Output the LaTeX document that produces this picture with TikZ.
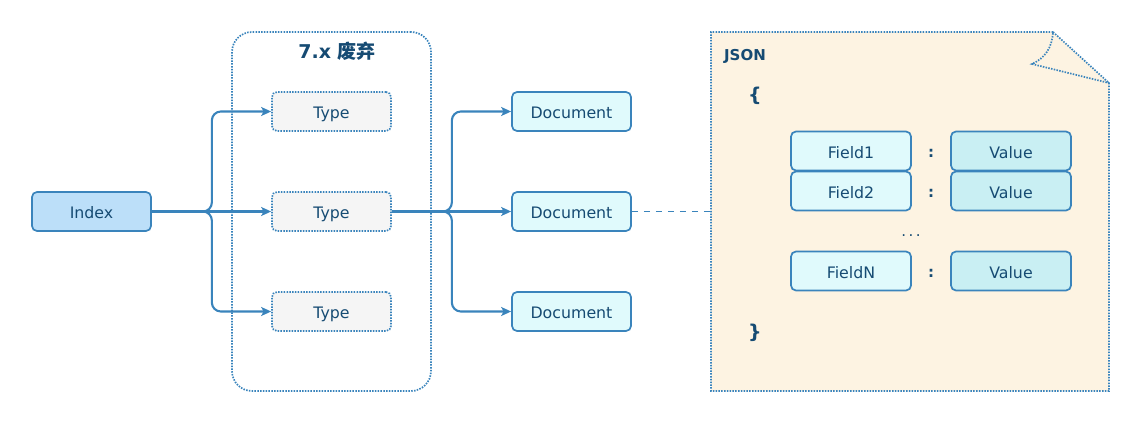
\documentclass[tikz,border=0pt]{standalone}
\usepackage{fontspec}
\setmainfont{DejaVu Sans}
\newfontfamily\cjk{Noto Sans CJK SC}
\usetikzlibrary{arrows.meta}
\definecolor{strk}{RGB}{58,132,188}
\definecolor{txt}{RGB}{22,75,115}
\definecolor{idxfill}{RGB}{188,223,249}
\definecolor{typefill}{RGB}{245,245,245}
\definecolor{docfill}{RGB}{224,250,252}
\definecolor{valfill}{RGB}{201,239,243}
\definecolor{notefill}{RGB}{253,243,226}
\tikzset{
  box/.style={draw=strk, line width=1.7pt, rounded corners=5pt, minimum width=119pt, minimum height=39pt, inner sep=0pt, text height=14.5pt, text depth=0pt, text=txt, font=\fontsize{15.8}{17}\selectfont},
  idxbox/.style={box, fill=idxfill},
  typebox/.style={box, fill=typefill, dash pattern=on 1.5pt off 1.3pt},
  docbox/.style={box, fill=docfill},
  fieldbox/.style={box, fill=docfill, minimum width=120pt},
  valbox/.style={box, fill=valfill, minimum width=120pt},
  dotline/.style={draw=strk, line width=1.7pt, dash pattern=on 1.5pt off 1.3pt},
  conn/.style={draw=strk, line width=2.1pt, rounded corners=9pt, -{Stealth[length=10pt,width=9pt,inset=2.5pt]}},
  plain/.style={text=txt, inner sep=0pt},
}
\begin{document}
\begin{tikzpicture}[x=1pt,y=-1pt]
\useasboundingbox (0,0) rectangle (1142,422);
% group box
\node[dotline, rounded corners=20pt, minimum width=199pt, minimum height=359pt, inner sep=0pt] (grp) at (331.5,211.5) {};
\node[plain, font=\bfseries\fontsize{19}{20}\selectfont] (grptitle) at (337,51) {7.x {\cjk\bfseries 废弃}};
% nodes
\node[idxbox] (idx) at (91.5,211.5) {Index};
\node[typebox] (t1) at (331.5,111.5) {Type};
\node[typebox] (t2) at (331.5,211.5) {Type};
\node[typebox] (t3) at (331.5,311.5) {Type};
\node[docbox] (d1) at (571.5,111.5) {Document};
\node[docbox] (d2) at (571.5,211.5) {Document};
\node[docbox] (d3) at (571.5,311.5) {Document};
% connectors
\draw[conn] (idx.east) -- ++(60,0) |- (t1.west);
\draw[conn] (idx.east) -- (t2.west);
\draw[conn] (idx.east) -- ++(60,0) |- (t3.west);
\draw[conn] (t2.east) -- ++(60,0) |- (d1.west);
\draw[conn] (t2.east) -- (d2.west);
\draw[conn] (t2.east) -- ++(60,0) |- (d3.west);
% JSON note
\coordinate (nl) at (711,211.5);
\path[fill=notefill] (711,32) -- (1053,32) -- (1109,83) -- (1109,391) -- (711,391) -- cycle;
\draw[dotline] (1053,32) -- (711,32) -- (711,391) -- (1109,391) -- (1109,83) -- (1053,32)
  .. controls (1052,48) and (1045,58) .. (1032,64) -- (1109,83);
\draw[draw=strk, line width=1.9pt, dash pattern=on 6pt off 6pt] (d2.east) -- (nl);
\node[plain, font=\bfseries\fontsize{15}{16}\selectfont] (json) at (745,56) {JSON};
\node[plain, font=\bfseries\fontsize{19}{20}\selectfont] (lb) at (755,96) {\{};
\node[plain, font=\bfseries\fontsize{19}{20}\selectfont] (rb) at (755,333) {\}};
\node[fieldbox] (f1) at (851,151) {Field1};
\node[fieldbox] (f2) at (851,191) {Field2};
\node[fieldbox] (fn) at (851,271) {FieldN};
\node[valbox] (v1) at (1011,151) {Value};
\node[valbox] (v2) at (1011,191) {Value};
\node[valbox] (vn) at (1011,271) {Value};
\node[plain, font=\bfseries\fontsize{15}{16}\selectfont] (c1) at (931,153) {:};
\node[plain, font=\bfseries\fontsize{15}{16}\selectfont] (c2) at (931,193) {:};
\node[plain, font=\bfseries\fontsize{15}{16}\selectfont] (cn) at (931,273) {:};
\node[plain, font=\fontsize{15}{16}\selectfont] (dots) at (911,236) {.\hspace{2.5pt}.\hspace{2.5pt}.};
\end{tikzpicture}
\end{document}
